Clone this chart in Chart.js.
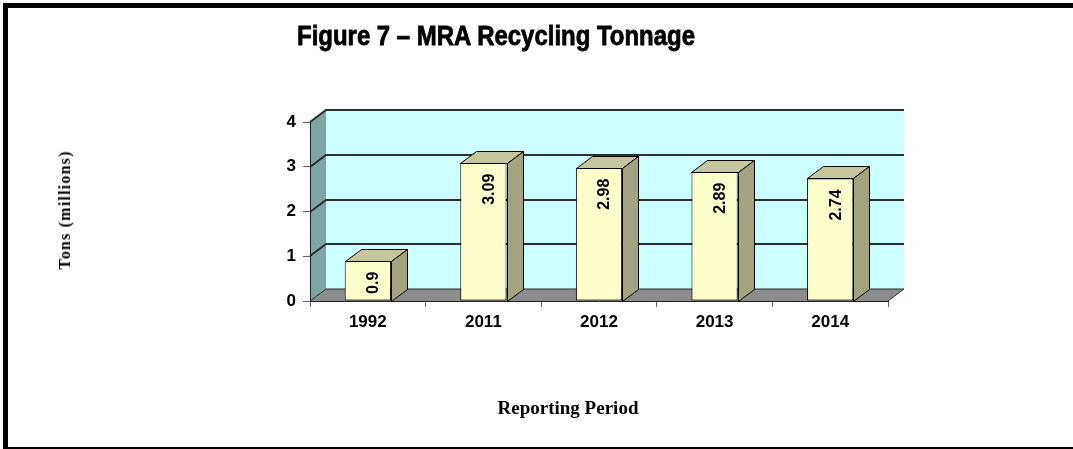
<!DOCTYPE html>
<html>
<head>
<meta charset="utf-8">
<script src="https://cdn.jsdelivr.net/npm/chart.js@4.4.1/dist/chart.umd.min.js"></script>
<style>
html,body{margin:0;padding:0;background:#fff;}
#wrap{position:relative;width:1073px;height:449px;overflow:hidden;background:#fff;}
#chart{position:absolute;left:0;top:0;}
.frame{position:absolute;background:#000;}
#title{position:absolute;left:297px;top:22px;font-family:'Liberation Sans',Arial,sans-serif;font-weight:bold;font-size:28px;line-height:28px;white-space:nowrap;transform-origin:left top;color:#000;-webkit-text-stroke:0.8px #000;}
#ytitle{position:absolute;left:65px;top:210px;font-family:'Liberation Serif','Times New Roman',serif;font-weight:bold;font-size:16px;letter-spacing:1.2px;white-space:nowrap;transform:translate(-50%,-50%) rotate(-90deg);color:#000;}
#xtitle{position:absolute;left:568px;top:398px;font-family:'Liberation Serif','Times New Roman',serif;font-weight:bold;font-size:19px;line-height:19px;white-space:nowrap;transform:translateX(-50%);color:#000;}
</style>
</head>
<body>
<div id="wrap">
  <canvas id="chart" width="1073" height="449"></canvas>
  <div class="frame" style="left:3px;top:3px;width:1070px;height:5px;"></div>
  <div class="frame" style="left:3px;top:3px;width:5px;height:446px;"></div>
  <div class="frame" style="left:3px;top:447px;width:1070px;height:2px;"></div>
  <div id="title">Figure 7 – MRA Recycling Tonnage</div>
  <div id="ytitle">Tons (millions)</div>
  <div id="xtitle">Reporting Period</div>
</div>
<script>
// ---- data ----
const categories = ['1992', '2011', '2012', '2013', '2014'];
const tonnage = [0.9, 3.09, 2.98, 2.89, 2.74];
const valueLabels = ['0.9', '3.09', '2.98', '2.89', '2.74'];
const yTicks = [0, 1, 2, 3, 4];

// fit title width
(function(){
  const t = document.getElementById('title');
  const w = t.getBoundingClientRect().width;
  t.style.transform = 'scaleX(' + (398 / w) + ')';
})();

const DX = 16, DY = -12;

const threeD = {
  id: 'threeD',
  beforeDraw(chart) {
    const ctx = chart.ctx;
    const {left, right, top, bottom} = chart.chartArea;
    const y = chart.scales.y;
    ctx.save();
    // back wall
    ctx.fillStyle = '#CCFFFF';
    ctx.fillRect(left + DX, top + DY, right - left, bottom - top);
    // left wall
    ctx.fillStyle = '#7FA4A4';
    ctx.beginPath();
    ctx.moveTo(left, top);
    ctx.lineTo(left + DX, top + DY);
    ctx.lineTo(left + DX, bottom + DY);
    ctx.lineTo(left, bottom);
    ctx.closePath();
    ctx.fill();
    // floor
    ctx.fillStyle = '#8C8C8C';
    ctx.beginPath();
    ctx.moveTo(left, bottom);
    ctx.lineTo(left + DX, bottom + DY);
    ctx.lineTo(right + DX, bottom + DY);
    ctx.lineTo(right, bottom);
    ctx.closePath();
    ctx.fill();
    // gridlines on walls
    ctx.strokeStyle = '#2e2e2e';
    yTicks.forEach(v => {
      const py = Math.round(y.getPixelForValue(v));
      ctx.lineWidth = v === 0 ? 1 : 2;
      ctx.beginPath();
      ctx.moveTo(left, py);
      ctx.lineTo(left + DX, py + DY);
      ctx.lineTo(right + DX, py + DY);
      ctx.stroke();
    });
    // floor right edge
    ctx.lineWidth = 1;
    ctx.beginPath();
    ctx.moveTo(right, bottom);
    ctx.lineTo(right + DX, bottom + DY);
    ctx.stroke();
    ctx.restore();
  },
  afterDatasetsDraw(chart) {
    const ctx = chart.ctx;
    const meta = chart.getDatasetMeta(0);
    ctx.save();
    ctx.lineWidth = 1;
    ctx.strokeStyle = '#000';
    meta.data.forEach((bar, i) => {
      const p = bar.getProps(['x', 'y', 'base', 'width'], true);
      const l = Math.round(p.x - p.width / 2) + 0.5;
      const r = Math.round(p.x + p.width / 2) + 0.5;
      const t = Math.round(p.y) + 0.5;
      const b = Math.round(p.base) + 0.5;
      // top face
      ctx.fillStyle = '#C6C69C';
      ctx.beginPath();
      ctx.moveTo(l, t);
      ctx.lineTo(l + DX, t + DY);
      ctx.lineTo(r + DX, t + DY);
      ctx.lineTo(r, t);
      ctx.closePath();
      ctx.fill();
      ctx.stroke();
      // side face
      ctx.fillStyle = '#A3A37F';
      ctx.beginPath();
      ctx.moveTo(r, t);
      ctx.lineTo(r + DX, t + DY);
      ctx.lineTo(r + DX, b + DY);
      ctx.lineTo(r, b);
      ctx.closePath();
      ctx.fill();
      ctx.stroke();
      // value label
      ctx.save();
      ctx.translate(p.x + 6, p.y + 11);
      ctx.rotate(-Math.PI / 2);
      ctx.textAlign = 'right';
      ctx.textBaseline = 'middle';
      ctx.font = 'bold 16px "Liberation Sans", Arial, sans-serif';
      ctx.fillStyle = '#000';
      ctx.fillText(valueLabels[i], 0, 0);
      ctx.restore();
    });
    ctx.restore();
  }
};

new Chart(document.getElementById('chart'), {
  type: 'bar',
  data: {
    labels: categories,
    datasets: [{
      data: tonnage,
      backgroundColor: '#FFFFCC',
      borderColor: '#000',
      borderWidth: 1,
      borderSkipped: false,
      barPercentage: 0.4,
      categoryPercentage: 1.0
    }]
  },
  options: {
    responsive: false,
    devicePixelRatio: 1,
    animation: false,
    layout: { padding: { left: 0, right: 185, top: 122, bottom: 108 } },
    plugins: { legend: { display: false }, tooltip: { enabled: false }, title: { display: false } },
    scales: {
      x: {
        grid: { display: true, drawOnChartArea: false, drawTicks: true, tickLength: 6, color: '#666', offset: true },
        border: { display: true, color: '#222', width: 1 },
        ticks: { color: '#000', font: { family: "'Liberation Sans', Arial, sans-serif", size: 17, weight: 'bold' }, padding: 5, maxRotation: 0 },
        afterFit(s) { s.height = 40; }
      },
      y: {
        min: 0, max: 4,
        afterBuildTicks(s) { s.ticks = yTicks.map(v => ({ value: v })); },
        grid: { drawOnChartArea: false, drawTicks: true, tickLength: 7, color: '#666' },
        border: { display: true, color: '#222', width: 1 },
        ticks: { color: '#000', font: { family: "'Liberation Sans', Arial, sans-serif", size: 17, weight: 'bold' }, padding: 7 },
        afterFit(s) { s.width = 310; }
      }
    }
  },
  plugins: [threeD]
});
</script>
</body>
</html>
